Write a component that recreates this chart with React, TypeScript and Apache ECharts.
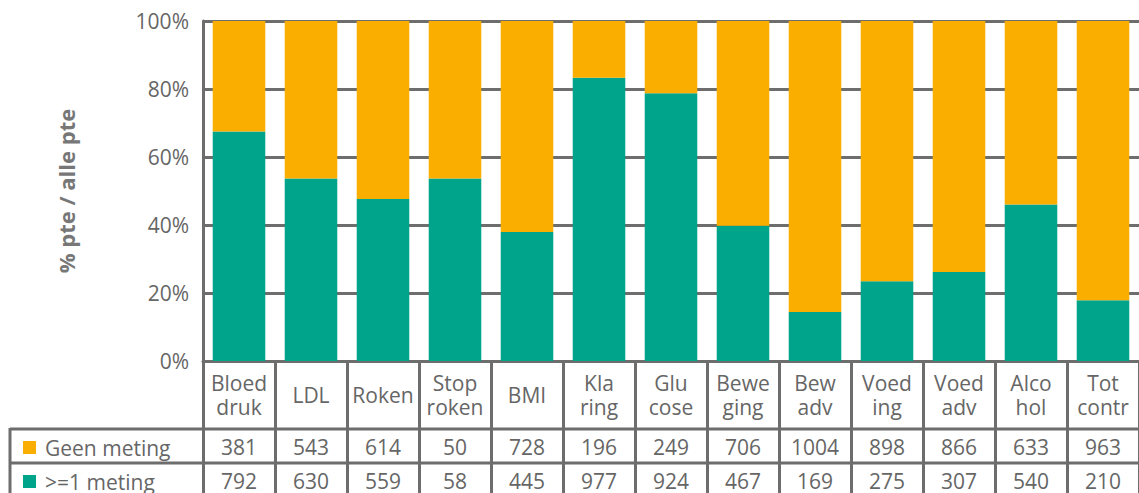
import React, { useEffect, useRef } from "react";
import * as echarts from "echarts";

// Metingen per risicofactor (aantal patiënten)
const categories = [
  "Bloed\ndruk", "LDL", "Roken", "Stop\nroken", "BMI", "Kla\nring", "Glu\ncose",
  "Bewe\nging", "Bew\nadv", "Voed\ning", "Voed\nadv", "Alco\nhol", "Tot\ncontr",
];
const geenMeting = [381, 543, 614, 50, 728, 196, 249, 706, 1004, 898, 866, 633, 963];
const eenOfMeer = [792, 630, 559, 58, 445, 977, 924, 467, 169, 275, 307, 540, 210];
const seriesNames = ["Geen meting", ">=1 meting"];
const yTicks = [0, 0.2, 0.4, 0.6, 0.8, 1];

const ORANGE = "#F9AE00";
const TEAL = "#00A48B";
const LINE = "#6d6d6d";
const TEXT = "#666666";
const FONT = "'Open Sans', sans-serif";

export default function App() {
  const ref = useRef<HTMLDivElement>(null);

  useEffect(() => {
    if (!ref.current) return;
    const chart = echarts.init(ref.current, null, { renderer: "svg" });

    const totals = geenMeting.map((g, i) => g + eenOfMeer[i]);
    const shareEen = eenOfMeer.map((v, i) => v / totals[i]);
    const shareGeen = geenMeting.map((v, i) => v / totals[i]);

    // One row of the data table underneath the bars, aligned with the categories
    const tableAxis = (values: number[], offset: number) => ({
      type: "category",
      gridIndex: 0,
      position: "bottom",
      offset,
      data: values.map(String),
      axisLine: { show: false },
      axisTick: { show: false },
      splitLine: { show: false },
      axisLabel: {
        interval: 0,
        margin: 0,
        verticalAlign: "middle",
        fontSize: 21,
        fontFamily: FONT,
        color: TEXT,
      },
    });

    // Row header of the table: colour key plus series name
    const rowLegend = (name: string, top: number) => ({
      data: [name],
      orient: "vertical",
      left: 23,
      top,
      icon: "rect",
      itemWidth: 13,
      itemHeight: 13,
      selectedMode: false,
      padding: 0,
      textStyle: {
        fontSize: 21,
        fontFamily: FONT,
        color: TEXT,
        padding: [0, 0, 0, 4],
      },
    });

    chart.setOption({
      animation: false,
      grid: { left: 203, top: 21, width: 942.5, height: 340, containLabel: false },
      legend: [rowLegend(seriesNames[0], 437), rowLegend(seriesNames[1], 471)],
      xAxis: [
        {
          type: "category",
          data: categories,
          axisLine: { show: true, lineStyle: { color: LINE, width: 3 } },
          axisTick: { show: true, length: 140, lineStyle: { color: LINE, width: 3 } },
          axisLabel: {
            interval: 0,
            margin: 34,
            verticalAlign: "middle",
            fontSize: 21,
            lineHeight: 24,
            fontFamily: FONT,
            color: TEXT,
          },
        },
        tableAxis(geenMeting, 86),
        tableAxis(eenOfMeer, 120),
      ],
      yAxis: {
        type: "value",
        min: 0,
        max: 1,
        interval: 0.2,
        name: "% pte / alle pte",
        nameLocation: "middle",
        nameGap: 126,
        nameTextStyle: {
          fontSize: 22,
          fontWeight: "bold",
          fontFamily: FONT,
          color: "#777777",
        },
        axisLine: { show: true, lineStyle: { color: LINE, width: 3 } },
        axisTick: { show: false },
        splitLine: { show: true, lineStyle: { color: LINE, width: 3 } },
        axisLabel: {
          margin: 14,
          fontSize: 21,
          fontFamily: FONT,
          color: TEXT,
          formatter: (v: number) =>
            yTicks.includes(Math.round(v * 10) / 10) ? `${Math.round(v * 100)}%` : "",
        },
      },
      series: [
        {
          name: seriesNames[1],
          type: "bar",
          stack: "total",
          barWidth: "73%",
          itemStyle: { color: TEAL },
          data: shareEen,
        },
        {
          name: seriesNames[0],
          type: "bar",
          stack: "total",
          barWidth: "73%",
          itemStyle: { color: ORANGE },
          data: shareGeen,
        },
      ],
      graphic: [
        { type: "line", shape: { x1: 10, y1: 429, x2: 1139, y2: 429 }, style: { stroke: LINE, lineWidth: 3 } },
        { type: "line", shape: { x1: 10, y1: 463, x2: 1139, y2: 463 }, style: { stroke: LINE, lineWidth: 3 } },
        { type: "line", shape: { x1: 10, y1: 428, x2: 10, y2: 500 }, style: { stroke: LINE, lineWidth: 3 } },
      ],
    });

    return () => chart.dispose();
  }, []);

  return (
    <div
      ref={ref}
      style={{ position: "absolute", left: 0, top: 0, width: 1139, height: 493 }}
    />
  );
}
